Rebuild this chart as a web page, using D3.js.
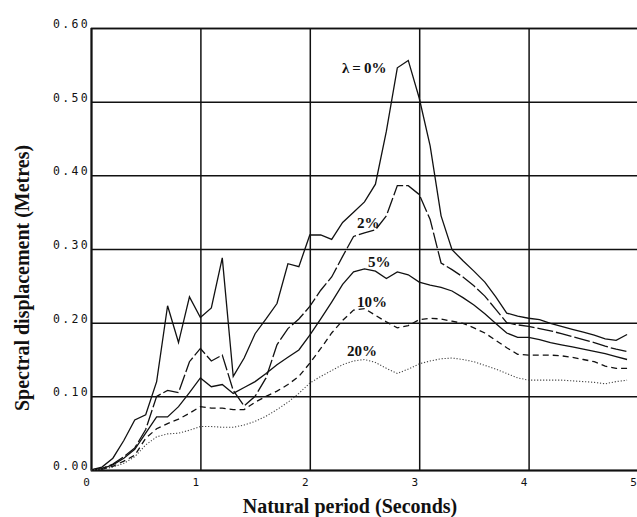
<!DOCTYPE html>
<html>
<head>
<meta charset="utf-8">
<script src="https://cdn.jsdelivr.net/npm/d3@7"></script>
<style>
  body { margin: 0; background: #fff; }
  svg { display: block; }
</style>
</head>
<body>
<script>
// natural period (s) sampled every 0.1 s
var periods = [0.0, 0.1, 0.2, 0.3, 0.4, 0.5, 0.6, 0.7, 0.8, 0.9,
               1.0, 1.1, 1.2, 1.3, 1.4, 1.5, 1.6, 1.7, 1.8, 1.9,
               2.0, 2.1, 2.2, 2.3, 2.4, 2.5, 2.6, 2.7, 2.8, 2.9,
               3.0, 3.1, 3.2, 3.3, 3.4, 3.5, 3.6, 3.7, 3.8, 3.9,
               4.0, 4.1, 4.2, 4.3, 4.4, 4.5, 4.6, 4.7, 4.8, 4.9];

// spectral displacement (m), one array per damping ratio
var damp0 = [0, 0.004, 0.016, 0.040, 0.068, 0.075, 0.120, 0.223, 0.173, 0.235,
             0.207, 0.220, 0.288, 0.127, 0.152, 0.185, 0.205, 0.226, 0.280, 0.276,
             0.319, 0.319, 0.313, 0.336, 0.350, 0.364, 0.388, 0.460, 0.546, 0.556,
             0.505, 0.440, 0.345, 0.299, 0.284, 0.270, 0.255, 0.235, 0.213, 0.209,
             0.206, 0.204, 0.199, 0.195, 0.191, 0.187, 0.183, 0.178, 0.176, 0.184];
var damp2 = [0, 0.002, 0.008, 0.018, 0.030, 0.055, 0.100, 0.108, 0.105, 0.147,
             0.165, 0.148, 0.156, 0.108, 0.087, 0.100, 0.125, 0.170, 0.192, 0.205,
             0.222, 0.244, 0.262, 0.290, 0.317, 0.322, 0.326, 0.345, 0.386, 0.386,
             0.374, 0.340, 0.281, 0.272, 0.262, 0.250, 0.236, 0.218, 0.200, 0.197,
             0.195, 0.192, 0.189, 0.185, 0.181, 0.177, 0.173, 0.168, 0.164, 0.161];
var damp5 = [0, 0.002, 0.007, 0.016, 0.028, 0.050, 0.072, 0.072, 0.086, 0.105,
             0.125, 0.113, 0.116, 0.104, 0.112, 0.120, 0.131, 0.143, 0.153, 0.163,
             0.183, 0.205, 0.228, 0.252, 0.269, 0.273, 0.270, 0.260, 0.269, 0.265,
             0.255, 0.251, 0.248, 0.243, 0.234, 0.224, 0.212, 0.199, 0.186, 0.180,
             0.180, 0.177, 0.173, 0.170, 0.167, 0.164, 0.161, 0.158, 0.154, 0.150];
var damp10 = [0, 0.001, 0.005, 0.012, 0.020, 0.043, 0.056, 0.063, 0.069, 0.077,
              0.086, 0.084, 0.084, 0.082, 0.082, 0.092, 0.100, 0.107, 0.116, 0.127,
              0.145, 0.165, 0.186, 0.203, 0.217, 0.219, 0.210, 0.201, 0.193, 0.196,
              0.204, 0.206, 0.205, 0.202, 0.199, 0.193, 0.186, 0.176, 0.166, 0.157,
              0.156, 0.156, 0.156, 0.155, 0.153, 0.150, 0.147, 0.141, 0.138, 0.138];
var damp20 = [0, 0.001, 0.004, 0.009, 0.018, 0.034, 0.045, 0.049, 0.050, 0.054,
              0.059, 0.059, 0.058, 0.058, 0.061, 0.066, 0.073, 0.082, 0.092, 0.104,
              0.118, 0.127, 0.135, 0.143, 0.148, 0.150, 0.146, 0.138, 0.131, 0.137,
              0.144, 0.148, 0.151, 0.152, 0.150, 0.147, 0.142, 0.137, 0.131, 0.125,
              0.122, 0.122, 0.122, 0.122, 0.121, 0.120, 0.119, 0.117, 0.120, 0.122];

var xTicks = [0, 1, 2, 3, 4, 5];
var yTicks = [0, 0.1, 0.2, 0.3, 0.4, 0.5, 0.6];

var width = 637, height = 517;
var plotL = 91, plotR = 638, plotT = 28, plotB = 470;

var svg = d3.select("body").append("svg").attr("width", width).attr("height", height);

var x = d3.scaleLinear().domain([0, 5]).range([plotL, plotR]);
var y = d3.scaleLinear().domain([0, 0.6]).range([plotB, plotT]);

// y axis + horizontal grid
var yAxis = svg.append("g")
    .attr("transform", "translate(" + plotL + ",0)")
    .call(d3.axisLeft(y).tickValues(yTicks).tickSize(-(width - plotL)).tickFormat(d3.format(".2f")));
yAxis.select(".domain").attr("stroke", "#111").attr("stroke-width", 1.6);
yAxis.selectAll(".tick line").attr("stroke", "#111").attr("stroke-width", 1.5);
yAxis.selectAll(".tick text")
    .attr("x", -1)
    .attr("dy", "-0.05em")
    .attr("fill", "#111")
    .style("font-family", "'DejaVu Sans Mono', monospace")
    .style("font-size", "11.5px")
    .style("letter-spacing", "2.3px");

// x axis + vertical grid
var xAxis = svg.append("g")
    .attr("transform", "translate(0," + plotB + ")")
    .call(d3.axisBottom(x).tickValues(xTicks).tickSize(-(plotB - plotT)).tickFormat(d3.format("d")));
xAxis.select(".domain").attr("stroke", "#111").attr("stroke-width", 1.6);
xAxis.selectAll(".tick line").attr("stroke", "#111").attr("stroke-width", 1.5);
xAxis.selectAll(".tick text")
    .attr("x", -5)
    .attr("y", 8)
    .attr("fill", "#111")
    .style("font-family", "'DejaVu Sans Mono', monospace")
    .style("font-size", "11px");

// curves
var series = [
    { name: "0", vals: damp0, dash: null, w: 1.3, col: "#111" },
    { name: "2", vals: damp2, dash: "16,3", w: 1.3, col: "#111" },
    { name: "5", vals: damp5, dash: null, w: 1.3, col: "#111" },
    { name: "10", vals: damp10, dash: "6,4", w: 1.3, col: "#111" },
    { name: "20", vals: damp20, dash: "1.2,1.8", w: 1.1, col: "#444" }
];

var line = d3.line()
    .x(function (d, i) { return x(periods[i]); })
    .y(function (d) { return y(d); });

svg.selectAll("path.curve")
    .data(series)
    .enter()
    .append("path")
    .attr("class", "curve")
    .attr("fill", "none")
    .attr("stroke", function (d) { return d.col; })
    .attr("stroke-width", function (d) { return d.w; })
    .attr("stroke-dasharray", function (d) { return d.dash; })
    .attr("d", function (d) { return line(d.vals); });

// curve labels
var labels = [
    { text: "λ\u2009=\u20090%", x: 342, y: 73 },
    { text: "2%", x: 357, y: 228 },
    { text: "5%", x: 368, y: 267 },
    { text: "10%", x: 357, y: 307 },
    { text: "20%", x: 347, y: 356 }
];
svg.selectAll("text.lab")
    .data(labels)
    .enter()
    .append("text")
    .attr("class", "lab")
    .attr("x", function (d) { return d.x; })
    .attr("y", function (d) { return d.y; })
    .style("font-family", "'Liberation Serif', serif")
    .style("font-weight", "bold")
    .style("font-size", "15px")
    .attr("fill", "#111")
    .text(function (d) { return d.text; });

// axis titles
svg.append("text")
    .attr("transform", "translate(29,278) rotate(-90)")
    .attr("text-anchor", "middle")
    .style("font-family", "'Liberation Serif', serif")
    .style("font-weight", "bold")
    .style("font-size", "20px")
    .attr("fill", "#111")
    .text("Spectral displacement (Metres)");

svg.append("text")
    .attr("x", 350)
    .attr("y", 513)
    .attr("text-anchor", "middle")
    .style("font-family", "'Liberation Serif', serif")
    .style("font-weight", "bold")
    .style("font-size", "20px")
    .attr("fill", "#111")
    .text("Natural period (Seconds)");
</script>
</body>
</html>
